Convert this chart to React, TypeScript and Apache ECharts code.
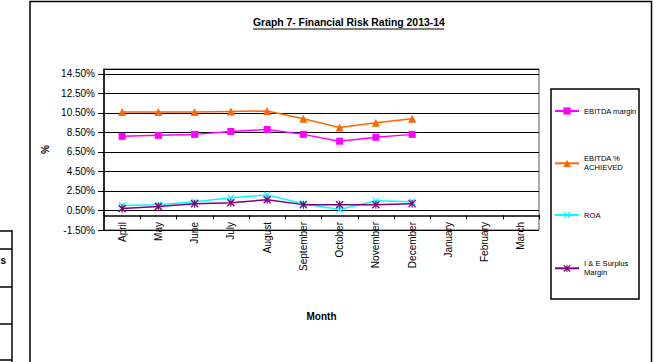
import React, { useEffect, useRef } from "react";
import * as echarts from "echarts";

const months = ["April", "May", "June", "July", "August", "September", "October", "November", "December", "January", "February", "March"];
const ebitdaMargin = [8.1, 8.2, 8.3, 8.6, 8.8, 8.3, 7.6, 8.0, 8.3, null, null, null];
const ebitdaAchieved = [10.6, 10.6, 10.6, 10.65, 10.7, 9.9, 9.0, 9.5, 9.9, null, null, null];
const roa = [1.0, 1.1, 1.4, 1.8, 2.1, 1.2, 0.6, 1.5, 1.4, null, null, null];
const ieSurplus = [0.7, 0.9, 1.2, 1.3, 1.6, 1.1, 1.1, 1.1, 1.2, null, null, null];

const seriesNames = ["EBITDA margin", "EBITDA % ACHIEVED", "ROA", "I & E Surplus Margin"];
const legendLabels = ["EBITDA margin", "EBITDA %\nACHIEVED", "ROA", "I & E Surplus\nMargin"];
const seriesColors = ["#FF00FF", "#FF6600", "#00FFFF", "#800080"];

const yMin = -1.5;
const yMax = 15;
const yStep = 2;

const titleText = "Graph 7- Financial Risk Rating 2013-14";
const FONT = "Liberation Sans, Arial, sans-serif";

const X_PATH = "path://M0,1.2L1.2,0L5,3.8L8.8,0L10,1.2L6.2,5L10,8.8L8.8,10L5,6.2L1.2,10L0,8.8L3.8,5Z";
const STAR_PATH = "path://M0,1.2L1.2,0L5,3.8L8.8,0L10,1.2L6.2,5L10,8.8L8.8,10L5,6.2L1.2,10L0,8.8L3.8,5ZM4.3,0L5.7,0L5.7,10L4.3,10Z";

export default function App() {
  const ref = useRef<HTMLDivElement>(null);
  useEffect(() => {
    if (!ref.current) return;
    const chart = echarts.init(ref.current, undefined, { renderer: "svg" });
    const dataSets = [ebitdaMargin, ebitdaAchieved, roa, ieSurplus];
    const symbols = ["rect", "triangle", X_PATH, STAR_PATH];
    const symbolSizes = [7, 8, 7, 8];
    const legendTops = [106.5, 149.8, 210.5, 254.8];
    const twoLine = [false, true, false, true];

    const option: any = {
      animation: false,
      backgroundColor: "#ffffff",
      title: {
        text: titleText,
        left: 253,
        top: 17,
        padding: 0,
        textStyle: { fontFamily: FONT, fontSize: 10.4, fontWeight: "bold", color: "#000" },
      },
      grid: {
        left: 104,
        top: 69,
        right: 122,
        bottom: 132,
        show: true,
        borderColor: "#555",
        borderWidth: 1,
        backgroundColor: "#fff",
      },
      xAxis: [
        {
          type: "category",
          data: months,
          position: "bottom",
          axisLine: { show: false, onZero: false },
          axisTick: { show: false },
          splitLine: { show: false },
          axisLabel: { rotate: 90, interval: 0, margin: -8, fontSize: 10, fontFamily: FONT, color: "#000" },
          name: "Month",
          nameLocation: "middle",
          nameGap: 81,
          nameTextStyle: { fontFamily: FONT, fontSize: 10, fontWeight: "bold", color: "#000" },
        },
        {
          type: "category",
          data: months,
          position: "bottom",
          axisLine: { show: true, onZero: true, onZeroAxisIndex: 0, lineStyle: { color: "#000", width: 1.5 } },
          axisTick: { show: true, length: 4, interval: 0, lineStyle: { color: "#000", width: 1 } },
          axisLabel: { show: false },
          splitLine: { show: false },
        },
      ],
      yAxis: [
        {
          type: "value",
          min: yMin,
          max: yMax,
          show: false,
        },
        {
          type: "value",
          position: "left",
          min: 0,
          max: yMax - yMin,
          interval: yStep,
          axisLine: { show: true, onZero: false, lineStyle: { color: "#000", width: 1.5 } },
          axisTick: { show: true, length: 6, lineStyle: { color: "#000" } },
          splitLine: { show: true, lineStyle: { color: "#000", width: 1 } },
          axisLabel: {
            showMaxLabel: false,
            margin: 9,
            fontSize: 10,
            fontFamily: FONT,
            color: "#000",
            padding: [8, 0, 0, 0],
            formatter: (v: number) => (v + yMin).toFixed(2) + "%",
          },
          name: "%",
          nameLocation: "middle",
          nameRotate: 90,
          nameGap: 50,
          nameTextStyle: { fontFamily: FONT, fontSize: 10, fontWeight: "bold", color: "#000" },
        },
      ],
      legend: seriesNames.map((n, i) => ({
        data: [n],
        left: 554,
        top: legendTops[i],
        padding: 0,
        itemWidth: 24,
        itemHeight: 9,
        selectedMode: false,
        formatter: () => legendLabels[i],
        textStyle: {
          fontFamily: FONT,
          fontSize: 7.6,
          lineHeight: 9,
          color: "#000",
          padding: twoLine[i] ? [9, 0, 0, 0] : 0,
        },
      })),
      series: seriesNames.map((n, i) => ({
        name: n,
        type: "line",
        xAxisIndex: 0,
        yAxisIndex: 0,
        data: dataSets[i],
        symbol: symbols[i],
        symbolSize: symbolSizes[i],
        showAllSymbol: true,
        connectNulls: false,
        z: 3 + i,
        lineStyle: { color: seriesColors[i], width: 1.5 },
        itemStyle: { color: seriesColors[i] },
      })),
      graphic: [
        { type: "rect", shape: { x: 30, y: 1.5, width: 621.5, height: 420 }, style: { fill: "none", stroke: "#000", lineWidth: 1.5 }, silent: true, z: -10 },
        { type: "line", shape: { x1: 253, y1: 29, x2: 444, y2: 29 }, style: { stroke: "#000", lineWidth: 1 }, silent: true },
        { type: "rect", shape: { x: 551, y: 89, width: 88, height: 210 }, style: { fill: "none", stroke: "#000", lineWidth: 1.5 }, silent: true },
        { type: "line", shape: { x1: 0, y1: 231, x2: 12, y2: 231 }, style: { stroke: "#000", lineWidth: 1.5 }, silent: true },
        { type: "line", shape: { x1: 0, y1: 249, x2: 12, y2: 249 }, style: { stroke: "#000", lineWidth: 1.5 }, silent: true },
        { type: "line", shape: { x1: 0, y1: 287, x2: 12, y2: 287 }, style: { stroke: "#000", lineWidth: 1.5 }, silent: true },
        { type: "line", shape: { x1: 0, y1: 324, x2: 12, y2: 324 }, style: { stroke: "#000", lineWidth: 1.5 }, silent: true },
        { type: "line", shape: { x1: 0, y1: 360, x2: 12, y2: 360 }, style: { stroke: "#000", lineWidth: 1.5 }, silent: true },
        { type: "line", shape: { x1: 12, y1: 230, x2: 12, y2: 362 }, style: { stroke: "#000", lineWidth: 1.5 }, silent: true },
        { type: "text", x: 6, y: 260, style: { text: "s", font: "bold 10px " + FONT, fill: "#000", textAlign: "right", textVerticalAlign: "middle" }, silent: true },
      ],
    };
    chart.setOption(option);
    return () => chart.dispose();
  }, []);
  return <div ref={ref} style={{ position: "fixed", left: 0, top: 0, width: 661, height: 362, background: "#fff" }} />;
}
